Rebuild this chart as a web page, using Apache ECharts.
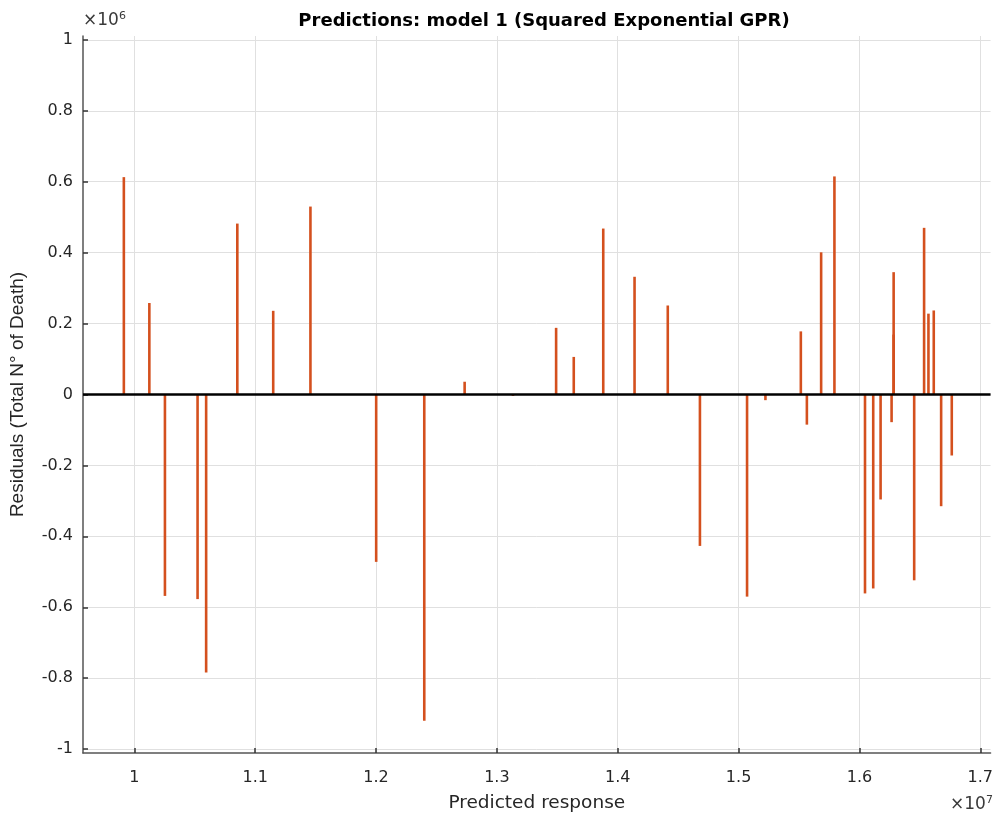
<!DOCTYPE html>
<html>
<head>
<meta charset="utf-8">
<script src="https://cdn.jsdelivr.net/npm/echarts@6/dist/echarts.min.js"></script>
<style>html,body{margin:0;padding:0;background:#fff}#c{width:996px;height:818px}</style>
</head>
<body>
<div id="c"></div>
<script>
// Predicted response (×10^7)
const predicted = [0.9913, 1.0124, 1.0253, 1.0523, 1.0594, 1.0852, 1.1149, 1.1457, 1.2001, 1.2399,
  1.2733, 1.3133, 1.3490, 1.3636, 1.3880, 1.4139, 1.4414, 1.4680, 1.5070, 1.5222,
  1.5515, 1.5565, 1.5683, 1.5793, 1.6046, 1.6114, 1.6175, 1.6266, 1.6283, 1.6283,
  1.6453, 1.6535, 1.6571, 1.6615, 1.6676, 1.6764];
// Residuals (×10^6)
const residuals = [0.613, 0.258, -0.568, -0.577, -0.784, 0.482, 0.236, 0.530, -0.472, -0.920,
  0.036, -0.004, 0.188, 0.106, 0.468, 0.332, 0.251, -0.427, -0.570, -0.016,
  0.178, -0.085, 0.401, 0.615, -0.561, -0.547, -0.296, -0.078, 0.345, 0.169,
  -0.524, 0.470, 0.228, 0.237, -0.315, -0.172];
const xTicks = [1, 1.1, 1.2, 1.3, 1.4, 1.5, 1.6, 1.7];
const yTicks = [-1, -0.8, -0.6, -0.4, -0.2, 0, 0.2, 0.4, 0.6, 0.8, 1];

const data = predicted.map((p, i) => [p, residuals[i]]);
const hFont = 'DejaVu Sans, Liberation Sans, Arial, sans-serif';
const vFont = 'Liberation Sans, Arial, Helvetica, sans-serif';
const chart = echarts.init(document.getElementById('c'));
chart.setOption({
  animation: false,
  title: {
    text: 'Predictions: model 1 (Squared Exponential GPR)',
    left: 539, top: 7, textAlign: 'center',
    textStyle: {fontFamily: hFont, fontSize: 18, fontWeight: 'bold', color: '#000'}
  },
  grid: {left: 82, right: 3, top: 36, bottom: 64},
  xAxis: {
    type: 'value', min: 0.9575, max: 1.7085,
    name: 'Predicted response', nameLocation: 'middle', nameGap: 41,
    nameTextStyle: {fontFamily: hFont, fontSize: 18.5, color: '#262626'},
    axisLine: {show: true, onZero: false, lineStyle: {color: '#555', width: 1.5}},
    axisTick: {show: true, inside: true, length: 5, customValues: xTicks, lineStyle: {color: '#333', width: 1.5}},
    axisLabel: {customValues: xTicks, margin: 17, fontFamily: hFont, fontSize: 16, color: '#262626',
      formatter: v => String(Math.round(v * 10) / 10)},
    splitLine: {show: true, lineStyle: {color: '#e0e0e0', width: 1}}
  },
  yAxis: {
    type: 'value', min: -1.011, max: 1.011,
    name: 'Residuals (Total N° of Death)', nameLocation: 'middle', nameGap: 56, nameRotate: 90,
    nameTextStyle: {fontFamily: vFont, fontSize: 19, color: '#262626'},
    axisLine: {show: true, onZero: false, lineStyle: {color: '#555', width: 1.5}},
    axisTick: {show: true, inside: true, length: 5, customValues: yTicks, lineStyle: {color: '#333', width: 1.5}},
    axisLabel: {customValues: yTicks, margin: 10, fontFamily: hFont, fontSize: 16, color: '#262626',
      formatter: v => String(Math.round(v * 10) / 10)},
    splitLine: {show: true, lineStyle: {color: '#e0e0e0', width: 1}}
  },
  graphic: [
    {type: 'text', left: 83, top: 11, style: {
      text: '×10{s|6}', fontFamily: hFont, fontSize: 17, fill: '#3a3a3a',
      rich: {s: {fontSize: 11, verticalAlign: 'top', padding: [0, 0, 9, 0], fill: '#3a3a3a', fontFamily: hFont}}}},
    {type: 'text', left: 950, top: 795, style: {
      text: '×10{s|7}', fontFamily: hFont, fontSize: 17, fill: '#3a3a3a',
      rich: {s: {fontSize: 11, verticalAlign: 'top', padding: [0, 0, 9, 0], fill: '#3a3a3a', fontFamily: hFont}}}}
  ],
  series: [{
    type: 'custom',
    data: data,
    renderItem: (params, api) => {
      const x = api.value(0), y = api.value(1);
      const p0 = api.coord([x, 0]);
      const p1 = api.coord([x, y]);
      return {type: 'line', shape: {x1: p0[0], y1: p0[1], x2: p1[0], y2: p1[1]},
        style: {stroke: '#D4501E', lineWidth: 2.6}};
    },
    markLine: {
      silent: true, symbol: 'none', label: {show: false},
      lineStyle: {color: '#000', width: 2.5, type: 'solid'},
      data: [{yAxis: 0}]
    },
    z: 3
  }]
});
</script>
</body>
</html>
